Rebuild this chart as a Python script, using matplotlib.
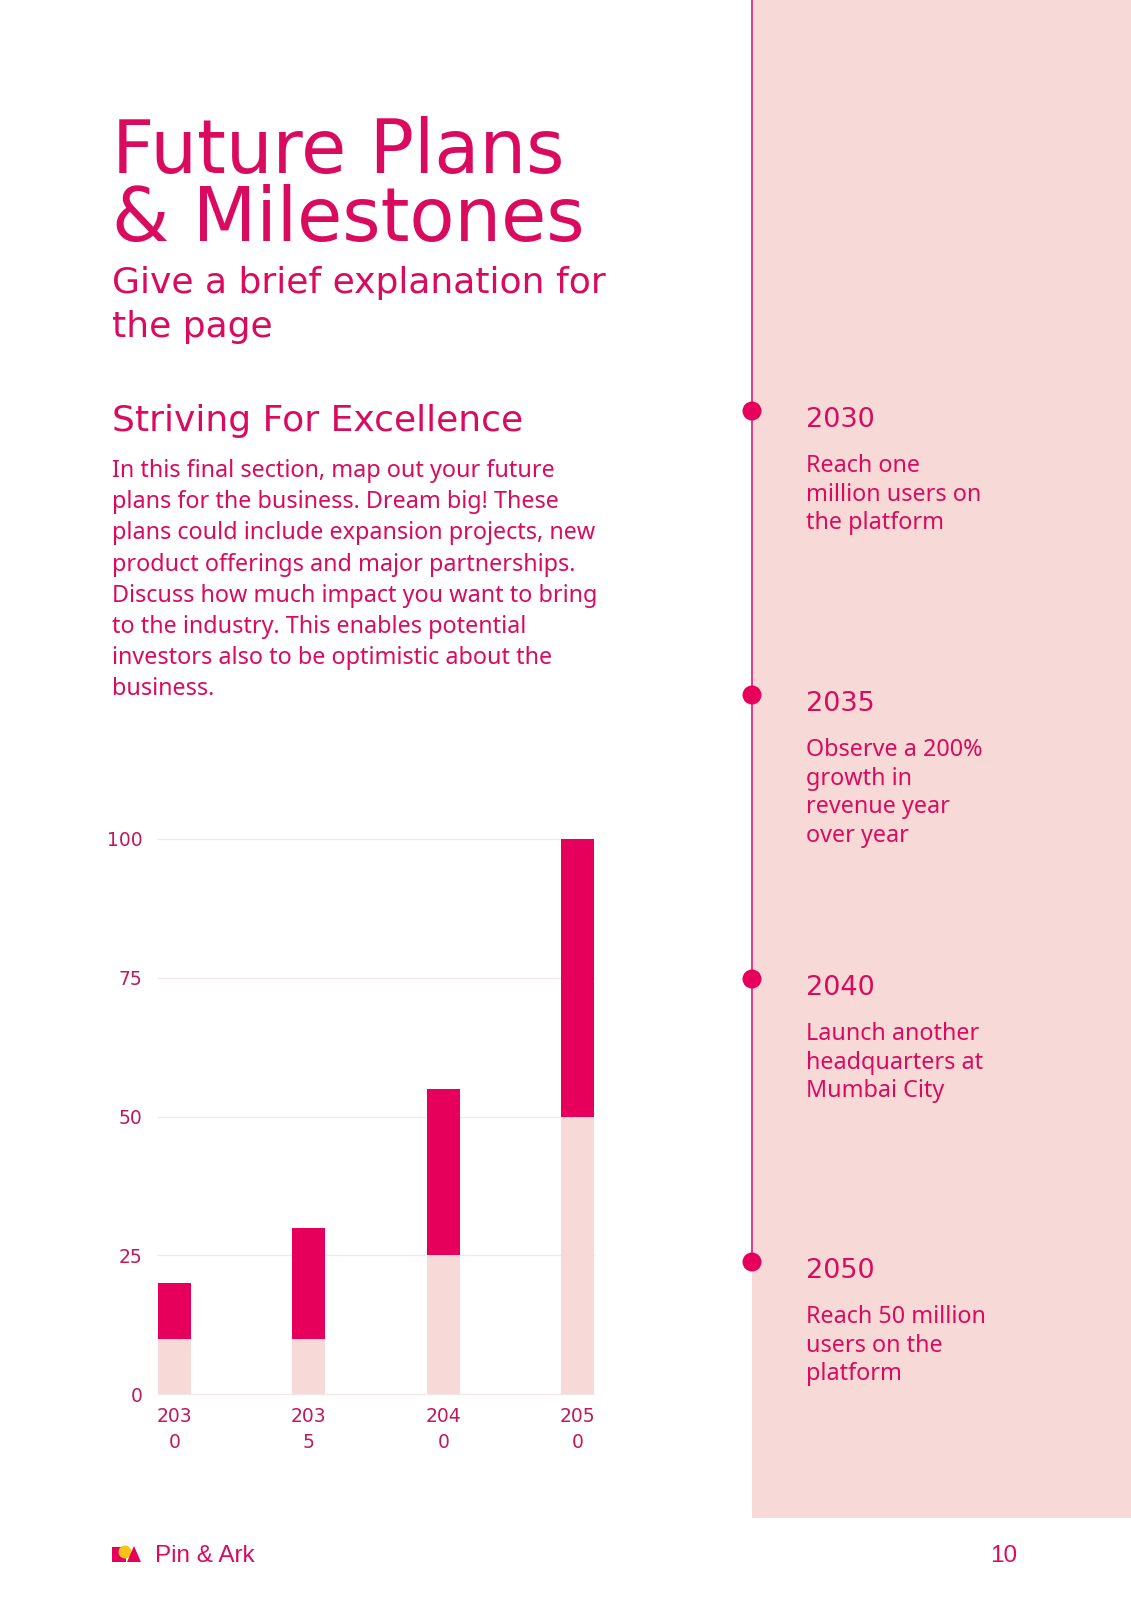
import matplotlib
matplotlib.use("Agg")
import matplotlib.pyplot as plt
from matplotlib.patches import Rectangle, Circle, Polygon

# chart data
years = ["2030", "2035", "2040", "2050"]
base_vals = [10, 10, 25, 50]
top_vals = [10, 20, 30, 50]
y_ticks = [0, 25, 50, 75, 100]

# timeline data
milestone_years = ["2030", "2035", "2040", "2050"]
milestone_text = [
    ["Reach one", "million users on", "the platform"],
    ["Observe a 200%", "growth in", "revenue year", "over year"],
    ["Launch another", "headquarters at", "Mumbai City"],
    ["Reach 50 million", "users on the", "platform"],
]

body_lines = [
    "In this final section, map out your future",
    "plans for the business. Dream big! These",
    "plans could include expansion projects, new",
    "product offerings and major partnerships.",
    "Discuss how much impact you want to bring",
    "to the industry. This enables potential",
    "investors also to be optimistic about the",
    "business.",
]

W, H = 1131, 1600
MAGENTA = "#E6005C"
TEXT = "#DA0B5F"
TICK = "#C2185C"
PINK = "#F7DAD7"
GRID = "#F2E8EA"
HEAD = "DejaVu Sans"
BODY = "Noto Sans"

fig = plt.figure(figsize=(W / 100, H / 100), dpi=100)
fig.patch.set_facecolor("white")

# full-page overlay in pixel coordinates
bg = fig.add_axes([0, 0, 1, 1])
bg.set_xlim(0, W)
bg.set_ylim(H, 0)
bg.axis("off")

bg.add_patch(Rectangle((752, 0), W - 752, 1518, color=PINK, lw=0, zorder=0))
bg.plot([752, 752], [0, 1262], color="#D8307A", lw=1.3, zorder=1)

dot_y = [411, 695, 979, 1262]
for yy, yr, lines in zip(dot_y, milestone_years, milestone_text):
    bg.add_patch(Circle((752, yy), 9.5, color=MAGENTA, lw=0, zorder=2))
    bg.text(806, yy + 16, yr, fontsize=19.5, family=HEAD, color=TEXT,
            va="baseline", ha="left")
    for j, line in enumerate(lines):
        bg.text(806, yy + 61 + j * 28.6, line, fontsize=16.8, family=BODY,
                color=TEXT, va="baseline", ha="left")

# headings
bg.text(112, 173, "Future Plans", fontsize=53, family=HEAD, color=TEXT, va="baseline")
bg.text(112, 241, "& Milestones", fontsize=53, family=HEAD, color=TEXT, va="baseline")
bg.text(112, 293, "Give a brief explanation for", fontsize=26, family=HEAD,
        color=TEXT, va="baseline")
bg.text(112, 337, "the page", fontsize=26, family=HEAD, color=TEXT, va="baseline")
bg.text(112, 431, "Striving For Excellence", fontsize=26, family=HEAD,
        color=TEXT, va="baseline")

for i, line in enumerate(body_lines):
    bg.text(112, 477 + i * 31.2, line, fontsize=16.8, family=BODY, color=TEXT,
            va="baseline")

# footer + logo
bg.add_patch(Rectangle((112, 1547), 14, 15, color=MAGENTA, lw=0))
bg.add_patch(Circle((125, 1552), 6.5, color="#F7C31B", lw=0))
bg.add_patch(Polygon([[127, 1562], [134, 1546], [141, 1562]], closed=True,
                     color=MAGENTA, lw=0))
bg.text(155, 1562, "Pin & Ark", fontsize=17.5, family="Liberation Sans",
        color=TEXT, va="baseline")
bg.text(1017, 1562, "10", fontsize=17.5, family="Liberation Sans",
        color=TEXT, va="baseline", ha="right")

# stacked bar chart
ax = fig.add_axes([158 / W, 1 - 1394 / H, 436 / W, 555 / H])
x = range(len(years))
bw = 0.243
ax.bar(x, base_vals, width=bw, color=PINK, zorder=3)
ax.bar(x, top_vals, width=bw, bottom=base_vals, color=MAGENTA, zorder=3)
ax.set_xlim(-bw / 2, len(years) - 1 + bw / 2)
ax.set_ylim(0, 100)
ax.set_yticks(y_ticks)
ax.set_yticklabels([str(t) for t in y_ticks])
ax.set_xticks(list(x))
ax.set_xticklabels([y[:3] + "\n" + y[3:] for y in years], linespacing=1.5)
for t in y_ticks:
    ax.axhline(t, color=GRID, lw=1.0, zorder=1, clip_on=False)
for s in ax.spines.values():
    s.set_visible(False)
ax.tick_params(length=0, labelsize=13.5, colors=TICK)
ax.tick_params(axis="y", pad=11)
ax.tick_params(axis="x", pad=9)
for lab in ax.get_xticklabels() + ax.get_yticklabels():
    lab.set_family(HEAD)
ax.patch.set_alpha(0)

fig.savefig("out.png", dpi=100, facecolor="white")
